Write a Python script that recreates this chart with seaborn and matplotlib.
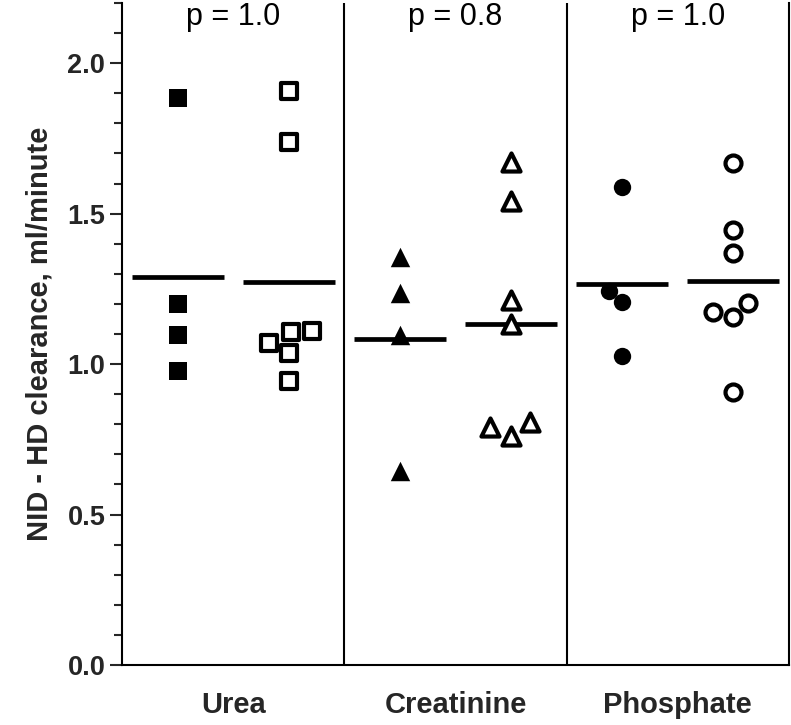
import pandas as pd
import matplotlib
matplotlib.use("Agg")
import matplotlib.pyplot as plt
import seaborn as sns
from matplotlib.ticker import MultipleLocator

# theme and fonts
sns.set_theme(style="ticks")
plt.rcParams['font.family'] = ['Liberation Sans', 'DejaVu Sans']

# data (NID - HD clearance, ml/minute)
analytes = ["Urea", "Creatinine", "Phosphate"]
p_values = ["p = 1.0", "p = 0.8", "p = 1.0"]

urea_filled = [1.884, 1.199, 1.096, 0.977]
urea_open = [1.907, 1.737, 1.110, 1.070, 1.037, 0.944, 1.106]
creat_filled = [1.355, 1.235, 1.096, 0.645]
creat_open = [1.673, 1.543, 1.213, 1.133, 0.806, 0.762, 0.792]
phos_filled = [1.587, 1.244, 1.205, 1.027]
phos_open = [1.669, 1.447, 1.368, 1.174, 1.157, 1.204, 0.908]

series = [
    ("Urea filled", urea_filled, "s", True),
    ("Urea open", urea_open, "s", False),
    ("Creatinine filled", creat_filled, "^", True),
    ("Creatinine open", creat_open, "^", False),
    ("Phosphate filled", phos_filled, "o", True),
    ("Phosphate open", phos_open, "o", False),
]
columns = [s[0] for s in series]

df = pd.DataFrame({
    "column": [name for name, vals, _, _ in series for _ in vals],
    "value": [v for _, vals, _, _ in series for v in vals],
})

fig = plt.figure(figsize=(7.91, 7.25), dpi=100)
ax = fig.add_axes([0.1542, 0.0828, 0.8432, 0.9131])

# points, one swarm per column
for name, vals, marker, filled in series:
    sub = df[df["column"] == name]
    size = {"s": 13, "^": 14, "o": 12.5}[marker]
    if filled:
        sns.swarmplot(data=sub, x="column", y="value", order=columns, ax=ax,
                      marker=marker, color="black", size=size, linewidth=0, zorder=3)
    else:
        sns.swarmplot(data=sub, x="column", y="value", order=columns, ax=ax,
                      marker=marker, color="white", edgecolor="black",
                      size=size - 1, linewidth=3, zorder=3)

# mean lines
sns.pointplot(data=df, x="column", y="value", order=columns, ax=ax,
              estimator="mean", errorbar=None, color="black",
              marker="_", markersize=66, markeredgewidth=3.4, linestyle="none")

# panel dividers
for xpos in [1.5, 3.5]:
    ax.axvline(xpos, color="black", linewidth=1.5, zorder=1)

ax.set_xlim(-0.5, 5.5)
ax.set_ylim(0, 2.2)
ax.yaxis.set_major_locator(MultipleLocator(0.5))
ax.yaxis.set_minor_locator(MultipleLocator(0.1))
ax.yaxis.set_major_formatter(matplotlib.ticker.FormatStrFormatter('%.1f'))

# analyte names centred under each panel
ax.set_xticks([0.5, 2.5, 4.5])
ax.set_xticklabels(analytes, fontsize=21, fontweight="bold")
ax.tick_params(axis="x", length=0, pad=19)
ax.tick_params(axis="y", which="major", length=9, width=1.5, labelsize=19.5, pad=3)
ax.tick_params(axis="y", which="minor", length=6, width=1.5)
for lab in ax.get_yticklabels():
    lab.set_fontweight("bold")

ax.set_xlabel("")
ax.set_ylabel("NID - HD clearance, ml/minute", fontsize=21, fontweight="bold", labelpad=10)

# p-values at top of each panel
for xpos, txt in zip([0.5, 2.5, 4.5], p_values):
    ax.text(xpos, 0.979, txt, transform=ax.get_xaxis_transform(),
            ha="center", va="center", fontsize=22, color="black")

ax.spines["top"].set_visible(False)
for side in ["left", "bottom", "right"]:
    ax.spines[side].set_linewidth(1.5)
    ax.spines[side].set_color("black")

fig.savefig("out.png", dpi=100)
